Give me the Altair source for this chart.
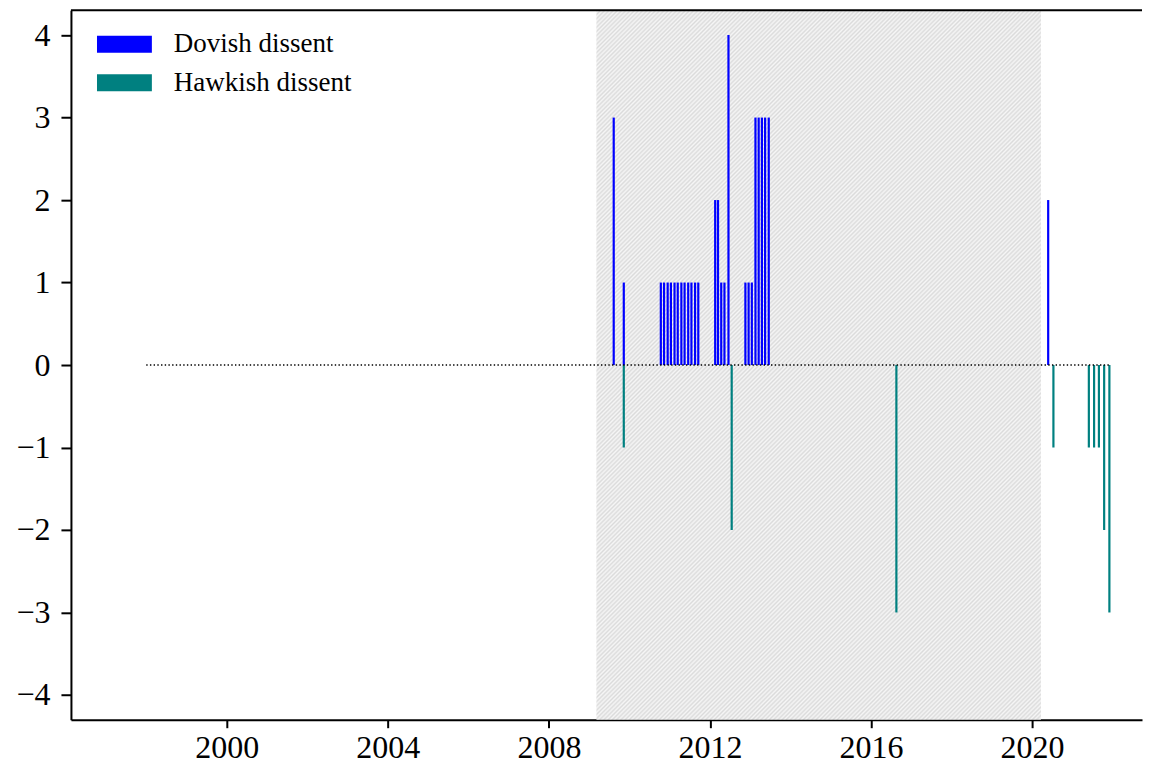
import altair as alt
import pandas as pd

# ---- data ----
dovish_dates = [2009.61, 2009.86,
                2010.78, 2010.86, 2010.95, 2011.03, 2011.12, 2011.20,
                2011.29, 2011.37, 2011.46, 2011.54, 2011.63, 2011.71,
                2012.13, 2012.20, 2012.28, 2012.36, 2012.46,
                2012.88, 2012.96, 2013.04,
                2013.13, 2013.21, 2013.29, 2013.37, 2013.46,
                2020.40]
dovish_counts = [3, 1,
                 1, 1, 1, 1, 1, 1, 1, 1, 1, 1, 1, 1,
                 2, 2, 1, 1, 4,
                 1, 1, 1,
                 3, 3, 3, 3, 3,
                 2]
hawkish_dates = [2009.86, 2012.54, 2016.63, 2020.53,
                 2021.41, 2021.54, 2021.66, 2021.79, 2021.92]
hawkish_counts = [-1, -2, -3, -1, -1, -1, -1, -2, -3]

series_names = ["Dovish dissent", "Hawkish dissent"]
series_colors = ["#0000ff", "#008080"]

shade_start = [2009.18]
shade_end = [2020.22]
zero_start = [1998.0]
zero_end = [2021.96]
zero_level = [0]

x_ticks = [2000, 2004, 2008, 2012, 2016, 2020]
y_ticks = [-4, -3, -2, -1, 0, 1, 2, 3, 4]

# ---- tables ----
bars = pd.DataFrame({
    "date": dovish_dates + hawkish_dates,
    "value": dovish_counts + hawkish_counts,
    "type": [series_names[0]] * len(dovish_dates) + [series_names[1]] * len(hawkish_dates),
})
shade = pd.DataFrame({"start": shade_start, "end": shade_end})
zero = pd.DataFrame({"start": zero_start, "end": zero_end, "level": zero_level})

W, H = 1072, 710
FONT = "Liberation Serif"
XDOM = [1996.13, 2022.73]

xscale = alt.Scale(domain=XDOM, nice=False, zero=False, padding=0)
yscale = alt.Scale(domain=[-4.3, 4.3], nice=False, zero=False)

x_axis = alt.Axis(values=x_ticks, format="d", title=None, grid=False, orient="bottom",
                  tickSize=8, tickWidth=2, tickColor="black",
                  domainWidth=2, domainColor="black",
                  labelFontSize=32, labelFont=FONT, labelColor="black",
                  labelPadding=5)
y_axis = alt.Axis(values=y_ticks, format="d", title=None, grid=False, orient="left",
                  tickSize=10, tickWidth=2, tickColor="black",
                  domainWidth=2, domainColor="black",
                  labelFontSize=32, labelFont=FONT, labelColor="black",
                  labelPadding=11)

# hatch-like fill: diagonal stripes built from a many-stop linear gradient
sw = (shade_end[0] - shade_start[0]) * W / (XDOM[1] - XDOM[0])
k = (sw + H) / (sw * sw + H * H)
n_periods = int(round((sw + H) / 2 ** 0.5 / 3.0))
stops = []
for i in range(2 * n_periods + 1):
    stops.append(alt.GradientStop(offset=i / (2 * n_periods),
                                  color="#dbdbdb" if i % 2 == 0 else "#f6f6f6"))
hatch = alt.LinearGradient(gradient="linear", x1=0, y1=0, x2=k * sw, y2=k * H, stops=stops)

shade_layer = alt.Chart(shade).mark_rect(fill=hatch).encode(
    x=alt.X("start:Q", scale=xscale, axis=x_axis),
    x2="end:Q",
    y=alt.value(0),
    y2=alt.value(H),
)

bar_layer = alt.Chart(bars).mark_bar(size=2.2, opacity=1).encode(
    x=alt.X("date:Q", scale=xscale, axis=x_axis),
    y=alt.Y("value:Q", scale=yscale, stack=None, axis=y_axis),
    color=alt.Color("type:N",
                    scale=alt.Scale(domain=series_names, range=series_colors),
                    legend=alt.Legend(title=None, orient="none", legendX=26, legendY=20.5,
                                      symbolType="M-1,-0.31H1V0.31H-1Z", symbolSize=3025,
                                      symbolStrokeWidth=0, symbolOpacity=1,
                                      clipHeight=27, rowPadding=10.5, labelOffset=22,
                                      labelFontSize=27, labelFont=FONT, labelColor="black",
                                      labelLimit=0, padding=0)),
)

zero_layer = alt.Chart(zero).mark_rule(color="black", strokeWidth=1.4,
                                       strokeDash=[1.4, 2.3]).encode(
    x=alt.X("start:Q", scale=xscale, axis=x_axis),
    x2="end:Q",
    y=alt.Y("level:Q", scale=yscale, axis=y_axis),
)

top_border = alt.Chart(zero).mark_rule(color="black", strokeWidth=2).encode(
    x=alt.value(0), x2=alt.value(W), y=alt.value(0),
)

chart = alt.layer(shade_layer, bar_layer, zero_layer, top_border).properties(
    width=W, height=H,
    padding={"left": 7, "top": 1, "right": 0, "bottom": 0},
    background="white",
).configure(font=FONT).configure_view(stroke=None)

chart.save("out.html", embed_options={"renderer": "svg", "actions": False})
